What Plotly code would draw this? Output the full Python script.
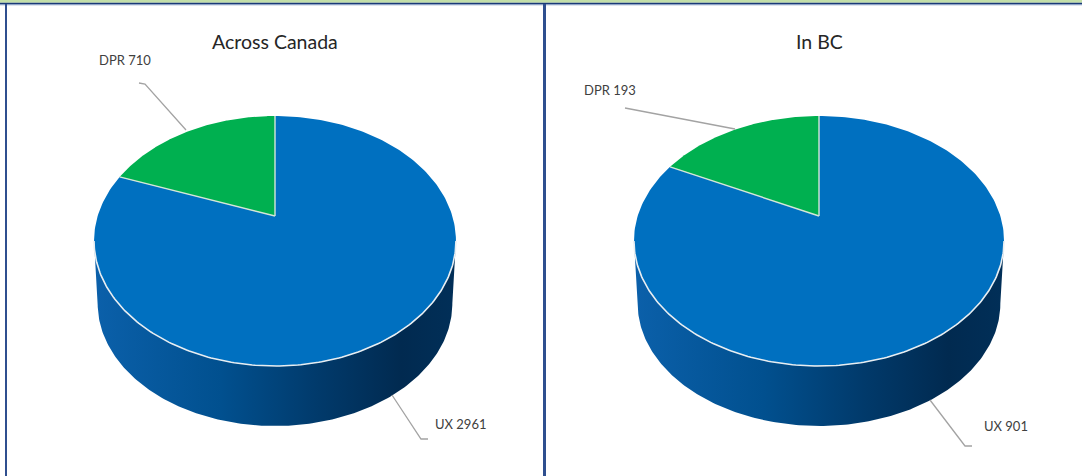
import numpy as np
import plotly.graph_objects as go

# ---- data ----
panel_titles = ["Across Canada", "In BC"]
categories = ["UX", "DPR"]
canada_values = [2961, 710]
bc_values = [901, 193]
values_by_panel = [canada_values, bc_values]

# ---- geometry / style ----
W, H = 1082, 476
FONT = "Lato, Liberation Sans, sans-serif"
CX = [275, 819]
APEX_Y = 216
RX = [177.3, 181.3]
RY = 120
PERSP = 0.2
DEPTH = 63
BOTTOM_SCALE = 0.98
SLICE_COLORS = ["#0070c0", "#00b050"]
SIDE_SCALE = [[0, "#0b60aa"], [0.35, "#01508f"], [0.62, "#013a6b"], [0.85, "#012a50"], [1, "#012f58"]]
LEADER = "#a3a3a3"
TITLE_Y = 41
LABEL_POS = [[(461, 424), (125, 60)], [(1006, 426), (610, 90)]]
LEADER_PATHS = [
    [[(139, 83), (145, 84), (186, 130)], [(392, 395), (421, 439), (428, 439)]],
    [[(625, 108), (735, 129)], [(930, 400), (965, 446), (972, 446)]],
]


def project(theta, cx, rx, scale=1.0, dy=0.0):
    """theta clockwise from the top of the disc -> page position under perspective."""
    u, v = np.sin(theta), np.cos(theta)
    w = 1 + PERSP * v
    return cx + scale * rx * u / w, APEX_Y + dy - scale * RY * v / w


fig = go.Figure()

for p, values in enumerate(values_by_panel):
    cx, rx = CX[p], RX[p]
    # side wall
    t0 = np.arccos(-PERSP)
    ts = np.linspace(t0, 2 * np.pi - t0, 200)
    xt, yt = project(ts, cx, rx)
    xb, yb = project(ts[::-1], cx, rx, BOTTOM_SCALE, DEPTH)
    fig.add_trace(go.Scatter(
        x=np.r_[xt, xb], y=np.r_[yt, yb], mode="lines", line=dict(width=0),
        fill="toself", fillgradient=dict(type="horizontal", colorscale=SIDE_SCALE),
        hoverinfo="skip", showlegend=False))
    # top slices, clockwise from 12 o'clock
    edges = np.r_[0, np.cumsum(values)] / np.sum(values) * 2 * np.pi
    for i, cat in enumerate(categories):
        t = np.linspace(edges[i], edges[i + 1], 240)
        ax, ay = project(t, cx, rx)
        fig.add_trace(go.Scatter(
            x=np.r_[cx, ax, cx], y=np.r_[APEX_Y, ay, APEX_Y], mode="lines",
            line=dict(width=0), fill="toself", fillcolor=SLICE_COLORS[i],
            name=cat, text=f"{cat} {values[i]}", hoverinfo="text", showlegend=False))
    # slice separators
    for e in edges[:2]:
        ex, ey = project(np.array([e]), cx, rx)
        fig.add_trace(go.Scatter(
            x=[cx, ex[0]], y=[APEX_Y, ey[0]], mode="lines",
            line=dict(color="#d5e6d8", width=1.4), hoverinfo="skip", showlegend=False))
    # white rim
    fig.add_trace(go.Scatter(
        x=xt, y=yt, mode="lines", line=dict(color="#e8eef2", width=1.6),
        hoverinfo="skip", showlegend=False))
    # leaders
    for path in LEADER_PATHS[p]:
        fig.add_trace(go.Scatter(
            x=[q[0] for q in path], y=[q[1] for q in path], mode="lines",
            line=dict(color=LEADER, width=1.3), hoverinfo="skip", showlegend=False))
    # labels
    for i, cat in enumerate(categories):
        lx, ly = LABEL_POS[p][i]
        fig.add_annotation(x=lx, y=ly, text=f"{cat} {values[i]}", showarrow=False,
                           font=dict(family=FONT, size=13, color="#404040"))
    fig.add_annotation(x=cx, y=TITLE_Y, text=panel_titles[p], showarrow=False,
                       font=dict(family=FONT, size=19.5, color="#262626"))

frame = "#2f4f8f"
shapes = [
    dict(type="rect", x0=0, x1=W, y0=0, y1=2.7, fillcolor="#c3dfa9", line_width=0, layer="below"),
    dict(type="rect", x0=0, x1=W, y0=2.7, y1=4.3, fillcolor="#1a3a78", line_width=0, layer="below"),
    dict(type="rect", x0=0, x1=W, y0=4.3, y1=5.2, fillcolor="#7d95bd", line_width=0, layer="below"),
    dict(type="rect", x0=5, x1=7, y0=4, y1=H, fillcolor=frame, line_width=0, layer="below"),
    dict(type="rect", x0=543, x1=546, y0=4, y1=H, fillcolor=frame, line_width=0, layer="below"),
]

fig.update_layout(
    width=W, height=H, autosize=False, margin=dict(l=0, r=0, t=0, b=0),
    paper_bgcolor="white", plot_bgcolor="white", showlegend=False, shapes=shapes,
    xaxis=dict(visible=False, range=[0, W], fixedrange=True),
    yaxis=dict(visible=False, range=[H, 0], fixedrange=True),
)
fig.write_html("out.html", config=dict(displayModeBar=False),
               post_script="document.body.style.margin='0';document.body.style.overflow='hidden';")
